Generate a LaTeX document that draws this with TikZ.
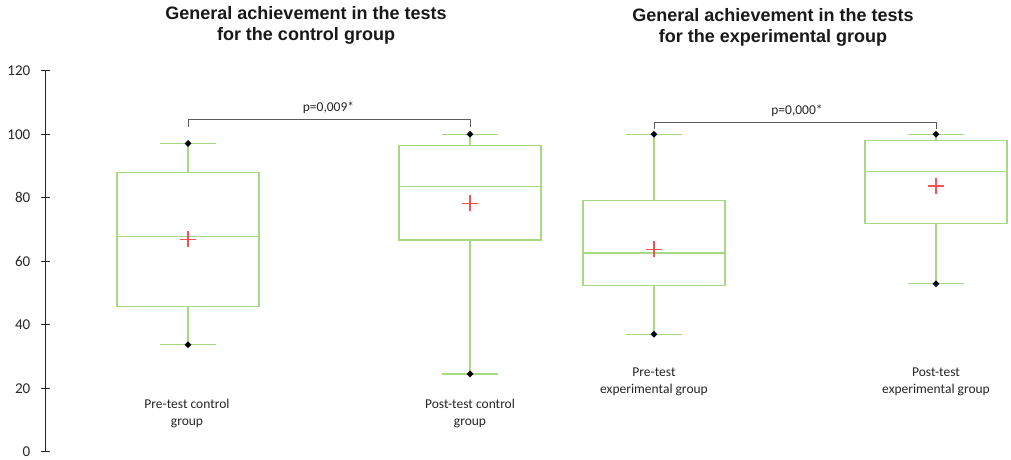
\documentclass[tikz,border=0pt]{standalone}
\usepackage{fontspec}
\setmainfont{Carlito}
\newfontfamily\titlefont{Liberation Sans}
\definecolor{boxgreen}{RGB}{165,218,130}
\definecolor{meanred}{RGB}{250,80,80}
\definecolor{brgray}{RGB}{90,90,90}
\tikzset{
  boxline/.style={draw=boxgreen, line width=1.2pt},
  meanline/.style={draw=meanred, line width=1.2pt},
  axisline/.style={draw=black!85, line width=1pt},
  brline/.style={draw=brgray, line width=0.9pt},
  ticklab/.style={anchor=east, font=\fontsize{15}{17}\selectfont, text=black!85, inner sep=0pt},
  grplab/.style={align=center, font=\fontsize{13.5}{17}\selectfont, text=black!85, inner sep=0pt},
  titlelab/.style={align=center, font=\titlefont\bfseries\fontsize{18}{21}\selectfont, text=black!90, inner sep=0pt},
  plab/.style={font=\fontsize{13.5}{15}\selectfont, text=black!85, inner sep=0pt},
  dot/.style={fill=black, draw=none, diamond, minimum size=7pt, inner sep=0pt}
}
\usetikzlibrary{shapes.geometric}
% \myboxplot{name}{center}{q1}{med}{q3}{min}{max}{mean}
\newcommand{\yv}[1]{451.7-3.175*(#1)}
\newcommand{\myboxplot}[8]{%
  \draw[boxline] ({#2-71},{\yv{#3}}) rectangle ({#2+71},{\yv{#5}});
  \draw[boxline] ({#2-71},{\yv{#4}}) -- ({#2+71},{\yv{#4}});
  \draw[boxline] (#2,{\yv{#5}}) -- (#2,{\yv{#7}});
  \draw[boxline] (#2,{\yv{#3}}) -- (#2,{\yv{#6}});
  \draw[boxline] ({#2-28},{\yv{#7}}) -- ({#2+28},{\yv{#7}});
  \draw[boxline] ({#2-28},{\yv{#6}}) -- ({#2+28},{\yv{#6}});
  \node[dot] (#1max) at (#2,{\yv{#7}}) {};
  \node[dot] (#1min) at (#2,{\yv{#6}}) {};
  \draw[meanline] ({#2-8},{\yv{#8}}) -- ({#2+8},{\yv{#8}});
  \draw[meanline] (#2,{\yv{#8}-8}) -- (#2,{\yv{#8}+8});
}
\begin{document}
\begin{tikzpicture}[x=1pt,y=-1pt]
\useasboundingbox (0,0) rectangle (1011,459);
\fill[white] (0,0) rectangle (1011,459);
% axis
\draw[axisline] (45,{\yv{0}}) -- (45,{\yv{120}});
\foreach \v in {0,20,...,120}{
  \draw[axisline] (41,{\yv{\v}}) -- (50,{\yv{\v}});
  \node[ticklab] (t\v) at (30.5,{\yv{\v}}) {\v};
}
% titles
\node[titlelab] (title1) at (306,25) {General achievement in the tests\\for the control group};
\node[titlelab] (title2) at (773,27) {General achievement in the tests\\for the experimental group};
% boxes
\myboxplot{b1}{188}{45.8}{67.9}{88}{33.7}{97.1}{66.9}
\myboxplot{b2}{470}{66.7}{83.5}{96.5}{24.5}{100}{78.2}
\myboxplot{b3}{654}{52.4}{62.6}{79.2}{37}{100}{63.7}
\myboxplot{b4}{936}{71.8}{88.2}{98}{52.9}{100}{83.7}
% brackets
\coordinate (c1l) at (188,126.7);
\coordinate (c1r) at (470,126.7);
\draw[brline] (c1l) -- ++(0,-7.4) -| (c1r);
\node[plab] (p1) at (328.5,108) {p=0,009*};
\coordinate (c2l) at (654,128.5);
\coordinate (c2r) at (936,128.5);
\draw[brline] (c2l) -- ++(0,-6.5) -| (c2r);
\node[plab] (p2) at (797,110.5) {p=0,000*};
% group labels
\node[grplab] (g1) at (187,413) {Pre-test control\\group};
\node[grplab] (g2) at (470,413) {Post-test control\\group};
\node[grplab] (g3) at (654,381.5) {Pre-test\\experimental group};
\node[grplab] (g4) at (936,381.5) {Post-test\\experimental group};
\end{tikzpicture}
\end{document}
